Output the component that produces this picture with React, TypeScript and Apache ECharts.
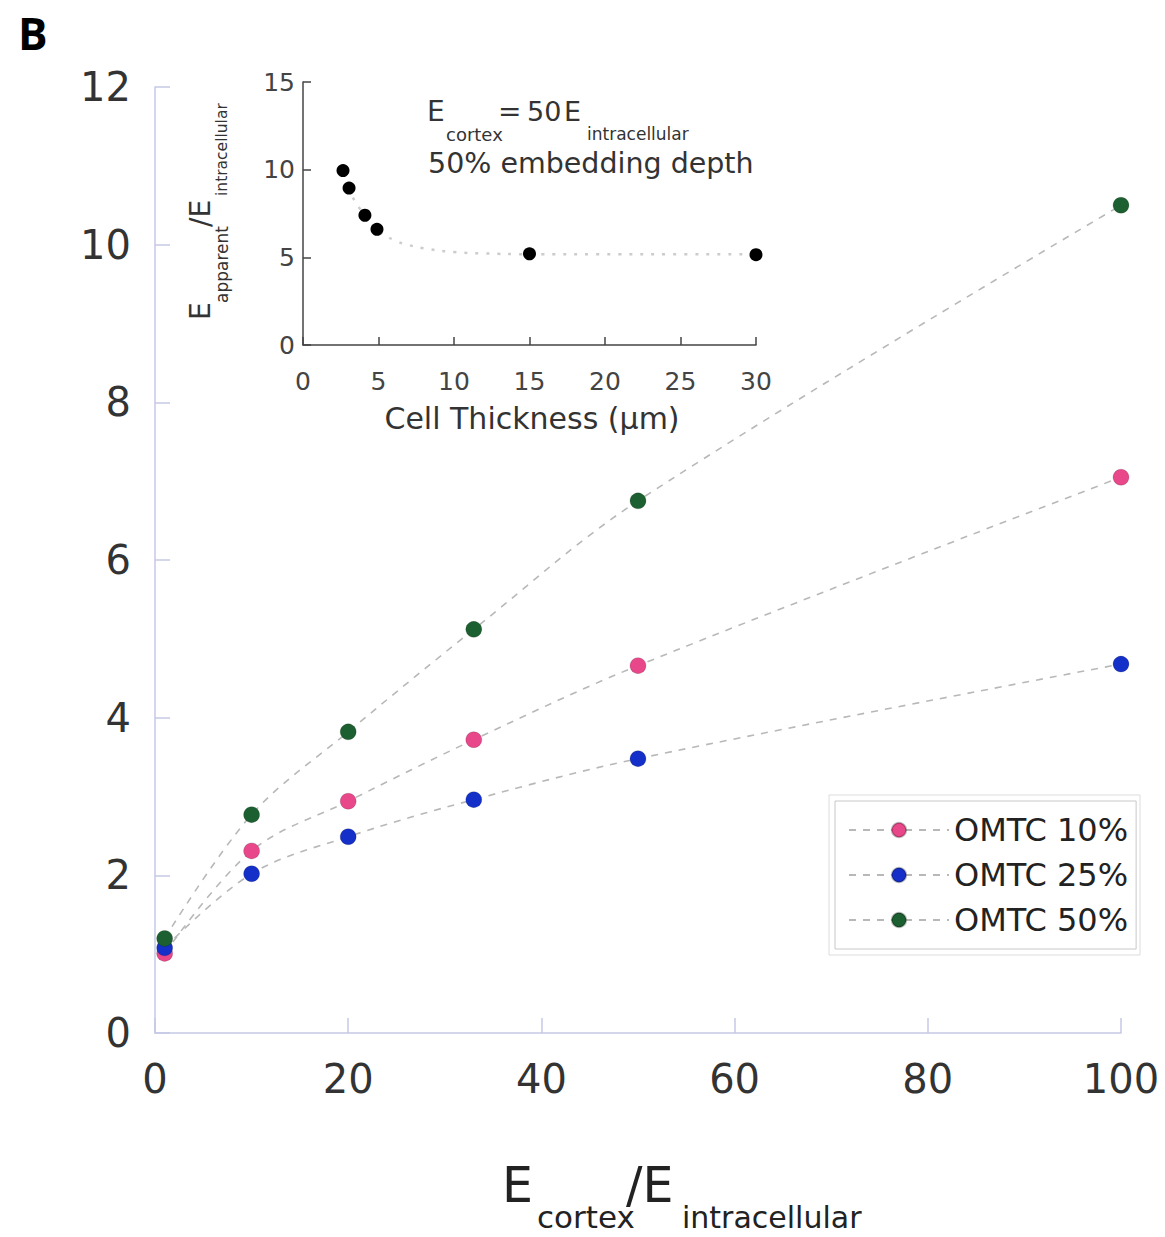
import React, { useEffect, useRef } from "react";
import * as echarts from "echarts";

// Main chart data
const ratioX = [1, 10, 20, 33, 50, 100];
const omtc10 = [1.01, 2.31, 2.94, 3.72, 4.66, 7.05];
const omtc25 = [1.08, 2.02, 2.49, 2.96, 3.48, 4.68];
const omtc50 = [1.2, 2.77, 3.82, 5.12, 6.75, 10.5];
const seriesNames = ["OMTC 10%", "OMTC 25%", "OMTC 50%"];
const seriesColors = ["#e8478a", "#1530c8", "#1c5f30"];

// Inset data
const thickX = [2.65, 3.05, 4.1, 4.9, 15, 30];
const thickY = [9.95, 8.95, 7.4, 6.6, 5.2, 5.15];
const fitX = [3.3, 4, 5, 6, 7, 8.4, 10, 12, 15, 20, 25, 30];
const fitY = [8.4, 7.5, 6.5, 6.0, 5.7, 5.46, 5.3, 5.22, 5.18, 5.17, 5.17, 5.17];

const FONT = "DejaVu Sans";

function zip(xs: number[], ys: number[]) {
  return xs.map((x, i) => [x, ys[i]]);
}

export default function App() {
  const ref = useRef<HTMLDivElement>(null);
  useEffect(() => {
    if (!ref.current) return;
    const chart = echarts.init(ref.current, undefined, { renderer: "svg" });
    const mainData = [omtc10, omtc25, omtc50];
    const mainSeries = mainData.map((d, i) => ({
      name: seriesNames[i],
      type: "line",
      xAxisIndex: 0,
      yAxisIndex: 0,
      data: zip(ratioX, d),
      smooth: 0.35,
      symbol: "circle",
      symbolSize: 16,
      itemStyle: { color: seriesColors[i], borderColor: "rgba(0,0,0,0.25)", borderWidth: 0.6 },
      lineStyle: { color: "#b8b8b8", width: 1.6, type: [7, 7] },
      z: 3 + i,
    }));
    const option: any = {
      animation: false,
      backgroundColor: "#ffffff",
      grid: [
        { left: 155, right: 44, top: 87, bottom: 204, containLabel: false },
        { left: 303, right: 409, top: 82, bottom: 892, containLabel: false },
      ],
      xAxis: [
        {
          type: "value",
          gridIndex: 0,
          min: 0,
          max: 100,
          interval: 20,
          axisLine: { show: true, lineStyle: { color: "#c6c9e6", width: 1.5 } },
          axisTick: { show: true, inside: true, length: 15, lineStyle: { color: "#c6c9e6", width: 1.5 } },
          axisLabel: { color: "#333", fontFamily: FONT, fontSize: 40, margin: 26 },
          splitLine: { show: false },
        },
        {
          type: "value",
          gridIndex: 1,
          min: 0,
          max: 30,
          interval: 5,
          axisLine: { show: true, lineStyle: { color: "#444", width: 1.5 } },
          axisTick: { show: true, inside: true, length: 8, lineStyle: { color: "#444", width: 1.5 } },
          axisLabel: { color: "#444", fontFamily: FONT, fontSize: 25, margin: 24 },
          splitLine: { show: false },
        },
      ],
      yAxis: [
        {
          type: "value",
          gridIndex: 0,
          min: 0,
          max: 12,
          interval: 2,
          axisLine: { show: true, lineStyle: { color: "#c6c9e6", width: 1.5 } },
          axisTick: { show: true, inside: true, length: 15, lineStyle: { color: "#c6c9e6", width: 1.5 } },
          axisLabel: { color: "#333", fontFamily: FONT, fontSize: 40, margin: 24 },
          splitLine: { show: false },
        },
        {
          type: "value",
          gridIndex: 1,
          min: 0,
          max: 15,
          interval: 5,
          axisLine: { show: true, lineStyle: { color: "#444", width: 1.5 } },
          axisTick: { show: true, inside: true, length: 8, lineStyle: { color: "#444", width: 1.5 } },
          axisLabel: { color: "#444", fontFamily: FONT, fontSize: 25, margin: 8 },
          splitLine: { show: false },
        },
      ],
      legend: {
        data: seriesNames,
        orient: "vertical",
        left: 835,
        top: 801,
        padding: [11, 8, 11, 13],
        itemWidth: 100,
        itemHeight: 18,
        itemGap: 9,
        borderColor: "#c8c8c8",
        borderWidth: 1,
        backgroundColor: "#fff",
        textStyle: { color: "#222", fontFamily: FONT, fontSize: 32, lineHeight: 36 },
      },
      series: [
        ...mainSeries,
        {
          name: "fit",
          type: "line",
          xAxisIndex: 1,
          yAxisIndex: 1,
          data: zip(fitX, fitY),
          smooth: true,
          symbol: "none",
          lineStyle: { color: "#cccccc", width: 2.5, type: [3, 8] },
          z: 2,
        },
        {
          name: "thickness",
          type: "scatter",
          xAxisIndex: 1,
          yAxisIndex: 1,
          data: zip(thickX, thickY),
          symbolSize: 13,
          itemStyle: { color: "#000", opacity: 1 },
          z: 5,
        },
      ],
      graphic: [
        {
          type: "rect",
          shape: { x: 829, y: 795, width: 311, height: 160 },
          style: { fill: "none", stroke: "#dcdcdc", lineWidth: 1 },
          z: -1,
        },
        {
          type: "text",
          x: 18,
          y: 33,
          style: { text: "B", font: "bold 44px 'Open Sans'", fill: "#000", verticalAlign: "middle" },
        },
        // main x-axis title
        { type: "text", x: 502, y: 1185, style: { text: "E", font: `49px '${FONT}'`, fill: "#222", verticalAlign: "middle" } },
        { type: "text", x: 537, y: 1217, style: { text: "cortex", font: `31px '${FONT}'`, fill: "#222", verticalAlign: "middle" } },
        { type: "text", x: 626, y: 1185, style: { text: "/E", font: `49px '${FONT}'`, fill: "#222", verticalAlign: "middle" } },
        { type: "text", x: 682, y: 1217, style: { text: "intracellular", font: `30px '${FONT}'`, fill: "#222", verticalAlign: "middle" } },
        // inset x title
        { type: "text", x: 532, y: 418, style: { text: "Cell Thickness (μm)", font: `30px '${FONT}'`, fill: "#333", align: "center", verticalAlign: "middle" } },
        // inset annotation
        { type: "text", x: 427, y: 111, style: { text: "E", font: `28px '${FONT}'`, fill: "#333", verticalAlign: "middle" } },
        { type: "text", x: 446, y: 134, style: { text: "cortex", font: `18px '${FONT}'`, fill: "#333", verticalAlign: "middle" } },
        { type: "text", x: 498, y: 111, style: { text: "=", font: `28px '${FONT}'`, fill: "#333", verticalAlign: "middle" } },
        { type: "text", x: 527, y: 111, style: { text: "50", font: `27px '${FONT}'`, fill: "#333", verticalAlign: "middle" } },
        { type: "text", x: 564, y: 111, style: { text: "E", font: `27px '${FONT}'`, fill: "#333", verticalAlign: "middle" } },
        { type: "text", x: 587, y: 134, style: { text: "intracellular", font: `17px '${FONT}'`, fill: "#333", verticalAlign: "middle" } },
        { type: "text", x: 428, y: 163, style: { text: "50% embedding depth", font: `28.5px '${FONT}'`, fill: "#333", verticalAlign: "middle" } },
        // inset y title (rotated)
        {
          type: "group",
          x: 200,
          y: 320,
          rotation: Math.PI / 2,
          children: [
            { type: "text", x: 0, y: 0, style: { text: "E", font: `28px '${FONT}'`, fill: "#333", verticalAlign: "middle" } },
            { type: "text", x: 17, y: 22, style: { text: "apparent", font: `17px '${FONT}'`, fill: "#333", verticalAlign: "middle" } },
            { type: "text", x: 93, y: 0, style: { text: "/E", font: `28px '${FONT}'`, fill: "#333", verticalAlign: "middle" } },
            { type: "text", x: 124, y: 22, style: { text: "intracellular", font: `15.5px '${FONT}'`, fill: "#333", verticalAlign: "middle" } },
          ],
        },
      ],
    };
    chart.setOption(option);
    return () => chart.dispose();
  }, []);
  return <div ref={ref} style={{ width: 1165, height: 1237, position: "absolute", left: 0, top: 0 }} />;
}
